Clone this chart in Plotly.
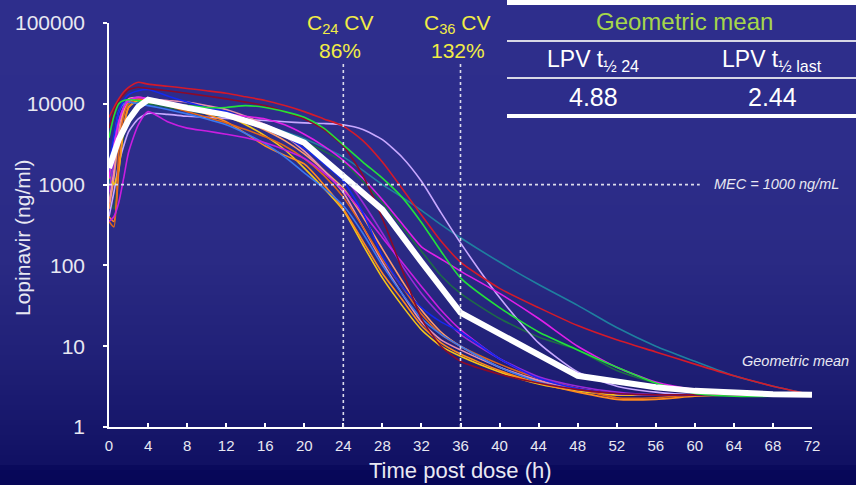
import plotly.graph_objects as go

# ---------------- data ----------------
times = [0, 0.5, 1, 1.5, 2, 3, 4, 6, 8, 10, 12, 14, 16, 18, 20, 22, 24, 26, 28, 30,
         32, 34, 36, 40, 44, 48, 52, 56, 60, 64, 68, 72]

subj_red = [6800, 9000, 11500, 14000, 16000, 18500, 17500, 16500, 15500, 14500, 13500, 12200, 11000, 9500, 8000, 6500,
            5300, 3500, 1900, 900, 420, 200, 110, 52, 30, 18, 12, 8.5, 6, 4.3, 3.2, 2.5]
subj_lavender = [400, 800, 1800, 3000, 4500, 6500, 7600, 7400, 7000, 6800, 6600, 6400, 6200, 6000, 5800, 5700,
                 5500, 4800, 3600, 2200, 1100, 450, 190, 40, 11, 4.8, 3.2, 2.7, 2.5, 2.5, 2.5, 2.5]
subj_teal = [900, 2500, 5500, 8000, 9500, 10500, 10000, 9200, 8500, 7800, 7000, 6200, 5400, 4500, 3700, 2900,
             2200, 1500, 1000, 700, 480, 320, 220, 110, 58, 32, 17, 10, 6.5, 4.3, 3.2, 2.5]
subj_green = [3800, 7000, 10000, 11000, 11200, 11000, 10500, 10000, 9500, 9000, 9000, 9500, 9000, 8000, 6800, 5000,
              3100, 1900, 1200, 700, 340, 150, 70, 30, 15, 9, 5.5, 3.5, 2.6, 2.4, 2.4, 2.5]
subj_magenta = [1200, 3000, 6000, 9000, 11000, 12000, 11500, 10000, 9000, 8200, 7500, 7000, 6500, 5500, 4200, 3000,
                2000, 1200, 650, 330, 170, 120, 85, 45, 22, 10, 5.5, 3.6, 2.9, 2.6, 2.5, 2.5]
subj_violet = [350, 400, 600, 1200, 2500, 5500, 8000, 6000, 5000, 4600, 4200, 3800, 3300, 2700, 2100, 1400,
               850, 450, 220, 110, 55, 28, 16, 7, 4, 3, 2.6, 2.5, 2.5, 2.5, 2.5, 2.5]
subj_blue = [1700, 4000, 8000, 11000, 13000, 14500, 15000, 12500, 10500, 9000, 8000, 6500, 5200, 4000, 2800, 1800,
             1100, 450, 130, 55, 30, 20, 15, 7, 4, 3, 2.6, 2.5, 2.5, 2.5, 2.5, 2.5]
subj_darkred = [5000, 8000, 11000, 13000, 15000, 16000, 15500, 14500, 13500, 12500, 11500, 10500, 9500, 8000, 6500, 4800,
                3000, 1300, 380, 90, 22, 10, 6.5, 4.5, 3.5, 2.9, 2.6, 2.5, 2.5, 2.5, 2.5, 2.5]
subj_darkgreen = [700, 500, 1500, 4000, 7000, 9500, 10000, 9000, 8200, 7500, 6800, 6000, 5200, 4300, 3400, 2600,
                  1900, 1100, 600, 300, 150, 75, 45, 22, 13, 9, 5, 3.5, 2.8, 2.6, 2.5, 2.5]
subj_orange = [400, 350, 1500, 5000, 9000, 11500, 11000, 10000, 9000, 7500, 6000, 4300, 3000, 2300, 1800, 1000,
               500, 200, 80, 38, 18, 11, 8, 5, 3.5, 2.7, 2.2, 2.2, 2.4, 2.5, 2.5, 2.5]
subj_yellow = [1300, 1000, 1500, 5000, 9000, 11000, 10500, 9800, 9000, 8000, 7000, 5500, 4000, 2700, 1600, 900,
               480, 180, 70, 32, 16, 10, 7.5, 4.8, 3.4, 2.8, 2.5, 2.5, 2.5, 2.5, 2.5, 2.5]
subj_pink = [600, 1500, 5000, 9000, 11500, 12000, 11500, 11000, 10500, 9500, 8500, 7000, 5500, 4000, 2600, 1500,
             800, 300, 110, 45, 20, 12, 9, 5.5, 3.8, 3, 2.6, 2.5, 2.5, 2.5, 2.5, 2.5]
subj_lightblue = [1500, 3500, 8000, 10000, 10500, 10000, 9500, 8500, 7500, 6500, 5500, 4300, 3200, 2200, 1400, 900,
                  550, 250, 100, 45, 22, 14, 10, 5.5, 3.6, 2.9, 2.6, 2.5, 2.5, 2.5, 2.5, 2.5]
subj_darkorange = [350, 300, 2500, 7000, 10000, 11500, 11000, 9500, 8000, 6800, 5800, 4800, 3900, 3000, 2100, 1300,
                   700, 300, 120, 55, 25, 14, 10, 6, 4, 3, 2.3, 2.3, 2.5, 2.5, 2.5, 2.5]
subj_purple = [800, 2000, 6000, 9000, 11000, 12000, 11500, 10500, 9500, 8500, 7500, 6500, 5500, 4300, 3200, 2100,
               1300, 600, 250, 100, 45, 24, 14, 7, 4.2, 3.2, 2.7, 2.5, 2.5, 2.5, 2.5, 2.5]
subj_peach = [500, 1200, 4000, 8000, 10500, 11500, 11000, 10000, 9500, 8500, 7300, 6000, 4700, 3500, 2400, 1500,
              900, 400, 160, 65, 28, 15, 10, 5.5, 3.7, 2.9, 2.5, 2.5, 2.5, 2.5, 2.5, 2.5]

subjects = [
    (subj_teal, "#1f7f9f"), (subj_darkgreen, "#1d6b48"), (subj_lavender, "#c8a8ff"),
    (subj_peach, "#ff9a6a"), (subj_pink, "#e890b0"), (subj_yellow, "#f5c518"),
    (subj_orange, "#ff8a1e"), (subj_darkorange, "#e0661a"), (subj_lightblue, "#3a78f0"),
    (subj_purple, "#9a2ad8"), (subj_violet, "#c81ee0"), (subj_blue, "#1428f0"),
    (subj_magenta, "#e020e8"), (subj_darkred, "#8c0a28"), (subj_green, "#22e03a"),
    (subj_red, "#d41a2a"),
]

gm_times = [0, 1, 2, 3, 4, 6, 8, 12, 16, 20, 24, 28, 32, 36, 48, 52, 56, 60, 64, 68, 72]
gm_values = [1600, 3600, 6300, 9200, 11200, 9800, 8900, 7300, 5200, 3300, 1300, 490, 110, 26, 4.3, 3.6, 3.1, 2.8,
             2.65, 2.55, 2.5]

x_ticks = list(range(0, 73, 4))
y_ticks = [1, 10, 100, 1000, 10000, 100000]
y_ticklabels = ["1", "10", "100", "1000", "10000", "100000"]

mec_value = 1000
mec_x = [0, 60.5]
cv_times = [24, 36]
cv_labels = [("C<sub>24</sub> CV", "86%"), ("C<sub>36</sub> CV", "132%")]
table_title = "Geometric mean"
table_headers = ["LPV t<sub>½ 24</sub>", "LPV t<sub>½ last</sub>"]
table_values = ["4.88", "2.44"]
x_title = "Time post dose (h)"
y_title = "Lopinavir (ng/ml)"

# ---------------- geometry helpers ----------------
W, H = 856, 485
L, R, T, B = 109, 44, 23, 58
PW, PH = W - L - R, H - T - B


def px(x):
    return (x - L) / PW


def py(y):
    return (H - B - y) / PH


FONT = "Liberation Sans, Arial, sans-serif"
TXT = "#e8e8f2"

fig = go.Figure()

for vals, col in subjects:
    fig.add_trace(go.Scatter(x=times, y=vals, mode="lines", showlegend=False,
                             line=dict(color=col, width=1.6, shape="spline", smoothing=0.6),
                             hoverinfo="skip"))

fig.add_trace(go.Scatter(x=gm_times, y=gm_values, mode="lines", showlegend=False,
                         line=dict(color="white", width=6), hoverinfo="skip"))

# MEC dashed line
fig.add_trace(go.Scatter(x=mec_x, y=[mec_value, mec_value], mode="lines", showlegend=False,
                         line=dict(color="#dcdcec", width=1.6, dash="3px,3px"), hoverinfo="skip"))

shapes = []
# background gradient
stops = [(0, (46, 46, 140)), (150, (45, 45, 138)), (260, (42, 42, 132)), (350, (33, 33, 120)),
         (430, (22, 22, 106)), (466, (16, 16, 98)), (468, (8, 8, 90)), (485, (6, 6, 86))]


def col_at(y):
    for (y0, c0), (y1, c1) in zip(stops[:-1], stops[1:]):
        if y0 <= y <= y1:
            f = (y - y0) / (y1 - y0) if y1 > y0 else 0
            return tuple(round(a + (b - a) * f) for a, b in zip(c0, c1))
    return stops[-1][1]


step = 5
for y in range(0, H, step):
    c = col_at(y + step / 2)
    shapes.append(dict(type="rect", xref="paper", yref="paper", layer="below",
                       x0=px(0), x1=px(W), y0=py(y + step + 0.5), y1=py(y),
                       fillcolor="rgb(%d,%d,%d)" % c, line=dict(width=0)))

# CV vertical dotted lines
for t in cv_times:
    shapes.append(dict(type="line", xref="x", yref="paper", x0=t, x1=t, y0=0, y1=py(64),
                       line=dict(color="#dcdcec", width=1.6, dash="3px,3px")))

# table rules
shapes.append(dict(type="line", xref="paper", yref="paper", x0=px(507), x1=px(860), y0=py(2.5), y1=py(2.5),
                   line=dict(color="white", width=5)))
for yy in (41, 78):
    shapes.append(dict(type="line", xref="paper", yref="paper", x0=px(507), x1=px(860), y0=py(yy), y1=py(yy),
                       line=dict(color="#d8d8e6", width=2)))
shapes.append(dict(type="line", xref="paper", yref="paper", x0=px(507), x1=px(860), y0=py(116), y1=py(116),
                   line=dict(color="white", width=4)))

ann = []
yellow = "#f2ec46"
for t, (lab, pct) in zip(cv_times, cv_labels):
    ann.append(dict(x=t - 0.3, y=py(24), xref="x", yref="paper", text=lab, showarrow=False,
                    font=dict(family=FONT, size=21, color=yellow), xanchor="center", yanchor="middle"))
    ann.append(dict(x=t - 0.3, y=py(51), xref="x", yref="paper", text=pct, showarrow=False,
                    font=dict(family=FONT, size=21, color=yellow), xanchor="center", yanchor="middle"))

ann.append(dict(x=px(684), y=py(21), xref="paper", yref="paper", text=table_title, showarrow=False,
                font=dict(family=FONT, size=24, color="#a6d64a"), xanchor="center", yanchor="middle"))
for cx, h, v in zip((593, 772), table_headers, table_values):
    ann.append(dict(x=px(cx), y=py(61), xref="paper", yref="paper", text=h, showarrow=False,
                    font=dict(family=FONT, size=23, color="white"), xanchor="center", yanchor="middle"))
    ann.append(dict(x=px(cx), y=py(97), xref="paper", yref="paper", text=v, showarrow=False,
                    font=dict(family=FONT, size=25, color="white"), xanchor="center", yanchor="middle"))

ann.append(dict(x=px(776), y=py(184), xref="paper", yref="paper", text="<i>MEC = 1000 ng/mL</i>",
                showarrow=False, font=dict(family=FONT, size=14.5, color=TXT), xanchor="center", yanchor="middle"))
ann.append(dict(x=px(795), y=py(361), xref="paper", yref="paper", text="<i>Geometric mean</i>",
                showarrow=False, font=dict(family=FONT, size=14.5, color=TXT), xanchor="center", yanchor="middle"))

# axis titles
ann.append(dict(x=px(460), y=py(470), xref="paper", yref="paper", text=x_title, showarrow=False,
                font=dict(family=FONT, size=22, color=TXT), xanchor="center", yanchor="middle"))
ann.append(dict(x=px(22), y=py(238), xref="paper", yref="paper", text=y_title, showarrow=False,
                textangle=-90, font=dict(family=FONT, size=21, color=TXT), xanchor="center", yanchor="middle"))

fig.update_layout(
    width=W, height=H, margin=dict(l=L, r=R, t=T, b=B, autoexpand=False),
    paper_bgcolor="rgb(6,6,86)", plot_bgcolor="rgba(0,0,0,0)",
    shapes=shapes, annotations=ann, showlegend=False,
    font=dict(family=FONT, color=TXT),
    xaxis=dict(range=[0, 72], tickvals=x_ticks, ticks="inside", ticklen=4, tickcolor="white", tickwidth=1.5,
               showline=True, linecolor="white", linewidth=1.5, showgrid=False, zeroline=False,
               automargin=False, ticklabelstandoff=4,
               tickfont=dict(family=FONT, size=15, color=TXT)),
    yaxis=dict(type="log", range=[0, 5], tickvals=y_ticks, ticktext=y_ticklabels, ticks="outside", ticklen=4,
               tickcolor="white", tickwidth=1.5, showline=True, linecolor="white", linewidth=1.5,
               showgrid=False, zeroline=False, automargin=False, ticklabelstandoff=14,
               tickfont=dict(family=FONT, size=21, color=TXT)),
)

fig.write_html("out.html")
